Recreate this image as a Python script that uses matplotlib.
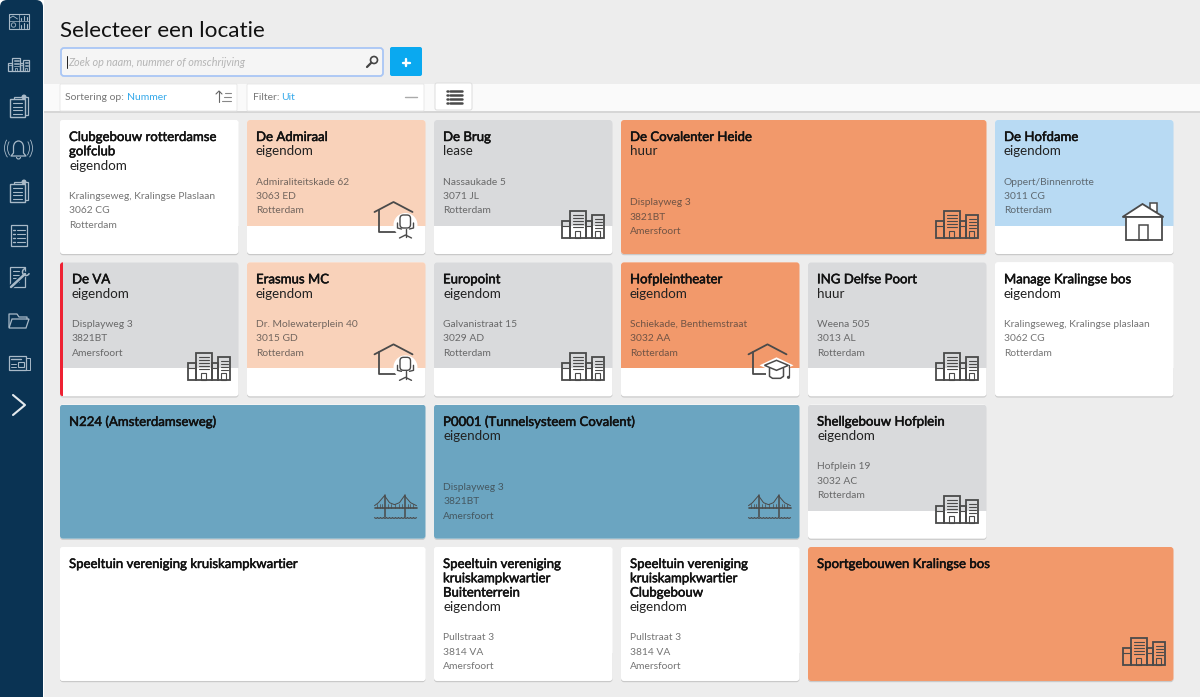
import matplotlib
matplotlib.use("Agg")
import matplotlib.pyplot as plt
import matplotlib.patheffects as pe
from matplotlib.patches import FancyBboxPatch, Rectangle, Polygon, Circle, Arc

plt.rcParams['font.family'] = ['Lato', 'DejaVu Sans']

# card contents, in page order
names = ["Clubgebouw rotterdamse\ngolfclub", "De Admiraal", "De Brug", "De Covalenter Heide", "De Hofdame",
         "De VA", "Erasmus MC", "Europoint", "Hofpleintheater", "ING Delfse Poort", "Manage Kralingse bos",
         "N224 (Amsterdamseweg)", "P0001 (Tunnelsysteem Covalent)", "Shellgebouw Hofplein",
         "Speeltuin vereniging kruiskampkwartier", "Speeltuin vereniging\nkruiskampkwartier\nBuitenterrein",
         "Speeltuin vereniging\nkruiskampkwartier\nClubgebouw", "Sportgebouwen Kralingse bos"]
kinds = ["eigendom", "eigendom", "lease", "huur", "eigendom",
         "eigendom", "eigendom", "eigendom", "eigendom", "huur", "eigendom",
         "", "eigendom", "eigendom",
         "", "eigendom", "eigendom", ""]
addresses = ["Kralingseweg, Kralingse Plaslaan\n3062 CG\nRotterdam", "Admiraliteitskade 62\n3063 ED\nRotterdam",
             "Nassaukade 5\n3071 JL\nRotterdam", "Displayweg 3\n3821BT\nAmersfoort",
             "Oppert/Binnenrotte\n3011 CG\nRotterdam",
             "Displayweg 3\n3821BT\nAmersfoort", "Dr. Molewaterplein 40\n3015 GD\nRotterdam",
             "Galvanistraat 15\n3029 AD\nRotterdam", "Schiekade, Benthemstraat\n3032 AA\nRotterdam",
             "Weena 505\n3013 AL\nRotterdam", "Kralingseweg, Kralingse plaslaan\n3062 CG\nRotterdam",
             "", "Displayweg 3\n3821BT\nAmersfoort", "Hofplein 19\n3032 AC\nRotterdam",
             "", "Pullstraat 3\n3814 VA\nAmersfoort", "Pullstraat 3\n3814 VA\nAmersfoort", ""]
colors = ["white", "peach", "grey", "orange", "blue",
          "grey", "peach", "grey", "orange", "grey", "white",
          "teal", "teal", "grey",
          "white", "white", "white", "orange"]
icons = ["", "desk", "office", "office", "house",
         "office", "desk", "office", "school", "office", "",
         "bridge", "bridge", "office",
         "", "", "", "office"]
spans = [1, 1, 1, 2, 1,
         1, 1, 1, 1, 1, 1,
         2, 2, 1,
         2, 1, 1, 2]
flagged = ["De VA"]
menu_icons = ["dash", "office", "docs", "bell", "docs", "list", "tools", "folder", "news", "chevron"]

palette = {"white": "#FFFFFF", "peach": "#F9D2BA", "grey": "#D9DADC", "orange": "#F2996B",
           "blue": "#B8DAF3", "teal": "#6BA5C1"}
NAVY = "#0A3353"
MENU = "#A9BAC8"
ICON = "#4A4A4A"

fig = plt.figure(figsize=(12, 6.97), dpi=100, facecolor="white")
ax = fig.add_axes([0, 0, 1, 1])
ax.set_xlim(0, 1200)
ax.set_ylim(697, 0)
ax.axis("off")


def box(x0, y0, x1, y1, fc, ec="none", r=3, lw=1, z=1):
    p = FancyBboxPatch((x0, y0), x1 - x0, y1 - y0, boxstyle=f"round,pad=0,rounding_size={r}",
                       fc=fc, ec=ec, lw=lw, zorder=z)
    ax.add_patch(p)
    return p


def line(xs, ys, color=ICON, lw=1.1, z=5):
    ax.plot(xs, ys, color=color, lw=lw, zorder=z, solid_capstyle="round", solid_joinstyle="round")


def rect(x0, y0, x1, y1, color=ICON, lw=1.1, fc="none", z=5):
    ax.add_patch(Rectangle((x0, y0), x1 - x0, y1 - y0, fc=fc, ec=color, lw=lw, zorder=z))


def office(x, b, c=ICON, lw=1.3, s=1.0):
    # x is left edge, b is bottom edge of a 42x27 glyph, s scales it
    t = b - 27 * s
    rect(x + 8 * s, t, x + 24 * s, b, c, lw)
    rect(x, t + 10 * s, x + 8 * s, b, c, lw)
    rect(x + 24 * s, t + 10 * s, x + 30 * s, b, c, lw)
    rect(x + 30 * s, t + 4 * s, x + 42 * s, b, c, lw)
    thin = lw * 0.62
    for i in range(5):
        yy = t + (4 + i * 3) * s
        line([x + 11 * s, x + 21 * s], [yy, yy], c, thin)
    for i in range(4):
        yy = t + (8 + i * 3) * s
        line([x + 33 * s, x + 40 * s], [yy, yy], c, thin)
    line([x, x + 8 * s], [t + 15 * s, t + 15 * s], c, thin)
    line([x + 24 * s, x + 30 * s], [t + 15 * s, t + 15 * s], c, thin)
    rect(x + 13 * s, b - 7 * s, x + 18 * s, b, c, thin)
    rect(x + 33 * s, b - 7 * s, x + 38 * s, b, c, thin)


def roof(x, t, wall_to):
    line([x, x + 19, x + 38], [t + 11, t + 1, t + 11], ICON, 1.3)
    line([x + 4, x + 4, wall_to], [t + 9, t + 31, t + 31], ICON, 1.3)


def desk(x, b):
    t = b - 37
    roof(x, t, x + 24)
    ax.add_patch(Circle((x + 31, t + 24), 12, fc="white", ec="none", zorder=5))
    box(x + 25.5, t + 14, x + 36, t + 27, "white", ICON, r=3.5, lw=1.0, z=6)
    line([x + 31, x + 31], [t + 28, t + 36], ICON, 1.0, 6)
    line([x + 23, x + 23, x + 27], [t + 22, t + 27, t + 28], ICON, 1.0, 6)
    line([x + 39, x + 39, x + 35], [t + 22, t + 27, t + 28], ICON, 1.0, 6)
    line([x + 25, x + 31, x + 37], [t + 37, t + 34, t + 37], ICON, 1.0, 6)


def house(x, b):
    b += 2
    t = b - 37
    rect(x + 27, t, x + 34, t + 9, ICON, 1.1, "white")
    ax.add_patch(Polygon([[x, t + 14], [x + 20, t + 1], [x + 41, t + 14]], closed=True,
                         fc="white", ec=ICON, lw=1.3, zorder=5))
    rect(x + 3, t + 14, x + 39, b, ICON, 1.3, "white")
    rect(x + 16, b - 15, x + 25, b, ICON, 1.1)


def school(x, b):
    t = b - 37
    roof(x, t, x + 18)
    ax.add_patch(Polygon([[x + 11, t + 22], [x + 28, t + 14], [x + 45, t + 22], [x + 28, t + 30]],
                         closed=True, fc="white", ec="none", zorder=5))
    ax.add_patch(Rectangle((x + 17, t + 24), 22, 12, fc="white", ec="none", zorder=5))
    ax.add_patch(Polygon([[x + 16, t + 22], [x + 28, t + 17], [x + 40, t + 22], [x + 28, t + 27]],
                         closed=True, fc="white", ec=ICON, lw=1.1, zorder=6))
    line([x + 21, x + 21, x + 24, x + 32, x + 35, x + 35], [t + 25, t + 33, t + 35, t + 35, t + 33, t + 25], ICON, 1.1, 5.5)
    line([x + 40, x + 40], [t + 22, t + 33], ICON, 0.9, 6)
    ax.add_patch(Circle((x + 40, t + 34), 1.6, fc=ICON, ec="none", zorder=6))


def bridge(x, b):
    b -= 5
    t = b - 23
    line([x + 10, x + 10], [t, b - 1], ICON, 1.1)
    line([x + 30, x + 30], [t, b - 1], ICON, 1.1)
    line([x, x + 42], [t + 13, t + 13], ICON, 1.2)
    line([x, x + 4, x + 10, x + 15, x + 20, x + 25, x + 30, x + 36, x + 42],
         [t + 11, t + 8, t + 1, t + 8, t + 10, t + 8, t + 1, t + 8, t + 11], ICON, 0.7)
    for k in (2, 5, 7, 13, 16, 20, 24, 27, 33, 35, 38):
        line([x + k, x + k], [t + 9, t + 13], ICON, 0.5)
    # water
    for k in range(0, 42, 3):
        line([x + k, x + k + 1.5, x + k + 3], [b, b + 0.8, b], ICON, 0.8)


glyphs = {"office": office, "desk": desk, "house": house, "school": school, "bridge": bridge}

# page chrome
ax.add_patch(Rectangle((0, 0), 1200, 697, fc="#EDEDED", ec="none", zorder=0))
ax.add_patch(Rectangle((43, 84), 1157, 27, fc="#FAFAFA", ec="none", zorder=0.5))
line([43, 1200], [111.5, 111.5], "#D2D2D2", 1.2, 0.6)
ax.add_patch(Rectangle((0, 0), 44, 697, fc="white", ec="none", zorder=0.7))
box(0, 0, 43, 720, NAVY, r=7, z=0.8)

# sidebar
menu_y = [21, 64, 106, 149, 191, 235, 278, 321, 363, 405]
for name, my in zip(menu_icons, menu_y):
    if name == "dash":
        rect(8.5, my - 7.5, 29, my + 7.5, MENU, 0.8)
        line([8.5, 29], [my, my], MENU, 0.5)
        line([18.5, 18.5], [my - 7.5, my + 7.5], MENU, 0.5)
        line([10, 13, 16, 17.5], [my - 3, my - 5, my - 3, my - 2], MENU, 0.6)
        ax.add_patch(Circle((13.5, my + 4), 2.2, fc="none", ec=MENU, lw=0.6, zorder=5))
        for k, h in enumerate((2, 4, 3)):
            line([21 + k * 3, 21 + k * 3], [my - 1, my - 1 - h], MENU, 0.8)
            line([21 + k * 3, 21 + k * 3], [my + 6.5, my + 6.5 - h - 1], MENU, 0.8)
    elif name == "office":
        office(8, my + 7, MENU, 0.9, s=0.5)
    elif name == "docs":
        rect(14, my - 9, 28, my + 9, MENU, 0.9)
        ax.add_patch(Circle((24, my - 9), 2.5, fc=MENU, ec="none", zorder=5.5))
        rect(10, my - 7, 24.5, my + 11, MENU, 1.0, NAVY, z=6)
        for k in range(4):
            line([13, 21.5], [my - 3 + k * 3.5, my - 3 + k * 3.5], MENU, 0.8, 7)
    elif name == "bell":
        ax.add_patch(Arc((18.5, my - 2), 10, 12, theta1=180, theta2=360, ec=MENU, lw=0.9, zorder=5))
        line([13.5, 13.5, 11, 26, 23.5, 23.5], [my - 2, my + 4, my + 7, my + 7, my + 4, my - 2], MENU, 0.9)
        ax.add_patch(Arc((18.5, my + 8), 4, 4, theta1=0, theta2=180, ec=MENU, lw=0.8, zorder=5))
        for wid in (22, 28):
            ax.add_patch(Arc((18.5, my - 1), wid, wid + 2, theta1=140, theta2=215, ec=MENU, lw=0.6, zorder=5))
            ax.add_patch(Arc((18.5, my - 1), wid, wid + 2, theta1=325, theta2=40, ec=MENU, lw=0.6, zorder=5))
    elif name == "list":
        rect(10.5, my - 10, 27, my + 11, MENU, 0.9)
        for k in range(4):
            line([12.5, 14.5], [my - 5 + k * 4, my - 5 + k * 4], MENU, 1.0)
            line([17, 24.5], [my - 5 + k * 4, my - 5 + k * 4], MENU, 0.8)
    elif name == "tools":
        rect(10, my - 11, 25, my + 9, MENU, 0.9)
        for k in range(4):
            line([12.5, 19], [my - 7 + k * 3.5, my - 7 + k * 3.5], MENU, 0.8)
        line([11, 25], [my + 9, my - 4], NAVY, 3.6, 5.5)
        line([11, 25], [my + 9, my - 4], MENU, 1.8, 6)
        ax.add_patch(Arc((26, my - 6), 7, 7, theta1=60, theta2=300, angle=-40, ec=MENU, lw=1.1, zorder=6))
    elif name == "folder":
        line([9, 9, 17, 19, 27, 27], [my + 6, my - 7, my - 7, my - 4, my - 4, my - 2], MENU, 0.9)
        ax.add_patch(Polygon([[12, my - 2], [29, my - 2], [26, my + 7], [9, my + 7]], closed=True,
                             fc="none", ec=MENU, lw=0.9, zorder=5))
    elif name == "news":
        rect(26, my - 5, 29.5, my + 7, MENU, 0.7)
        rect(8.5, my - 7, 26, my + 7, MENU, 0.9)
        line([11, 21], [my - 4, my - 4], MENU, 1.0)
        rect(18, my - 1, 23.5, my + 4, MENU, 0.8)
        line([11, 16], [my + 1, my + 1], MENU, 0.7)
        line([11, 16], [my + 4, my + 4], MENU, 0.7)
    elif name == "chevron":
        line([13, 25, 13], [my - 10, my, my + 10], "#E4EAEE", 1.5)

# header
ax.text(60, 31, "Selecteer een locatie", fontsize=16.2, color="#111111", va="center", ha="left")
box(61, 48, 383, 76, "#F5F5F5", "#A9C6F5", r=3, lw=1.3, z=2)
line([66.5, 66.5], [56, 68], "#222222", 0.7)
ax.text(68, 62.5, "Zoek op naam, nummer of omschrijving", fontsize=7.8, style="italic", color="#B5B5B5",
        va="center", ha="left", zorder=3)
ax.add_patch(Circle((374, 60), 3.5, fc="none", ec="#444444", lw=1.2, zorder=3))
line([371, 367], [63, 67], "#444444", 1.6)
box(390, 47, 422, 76, "#0AA9F0", r=2, z=2)
line([402.5, 409.5], [62.5, 62.5], "white", 1.7)
line([406, 406], [59, 66], "white", 1.7)

box(60, 84, 237, 111, "white", "#E6E6E6", r=1, lw=0.6, z=2)
ax.text(65, 97, "Sortering op:", fontsize=7.5, color="#777777", va="center", zorder=3)
ax.text(127, 97, "Nummer", fontsize=7.5, color="#35A9EA", va="center", zorder=3)
line([219, 219], [91, 102], "#666666", 0.8)
line([216, 219, 222], [94, 91, 94], "#666666", 0.8)
for yy, x0 in zip((93, 97, 101), (225, 224, 222)):
    line([x0, 231], [yy, yy], "#888888", 0.8)

box(247, 84, 424, 111, "white", "#E6E6E6", r=1, lw=0.6, z=2)
ax.text(253, 97, "Filter:", fontsize=7.5, color="#777777", va="center", zorder=3)
ax.text(281, 97, "Uit", fontsize=7.5, color="#35A9EA", va="center", zorder=3)
line([405, 417], [97, 97], "#AAAAAA", 1.0)

box(435, 83, 472, 110, "white", "#DDDDDD", r=2, lw=0.7, z=2)
for yy in (91, 95, 99, 103):
    line([446.5, 448], [yy, yy], "#4A4A4A", 1.8)
    line([450, 461.5], [yy, yy], "#4A4A4A", 1.8)

# cards, flowing left to right over a six column grid
COL0, COL_STEP, CARD_W = 60, 187, 178.5
ROW0, ROW_STEP, CARD_H = 120, 142.33, 134
BAND_H = 106
heavier = [pe.withStroke(linewidth=0.35, foreground="#111111")]
col, row = 0, 0
for name, kind, addr, colour, icon, span in zip(names, kinds, addresses, colors, icons, spans):
    if col + span > 6:
        col, row = 0, row + 1
    x0 = COL0 + col * COL_STEP
    x1 = x0 + CARD_W + (span - 1) * COL_STEP
    y0 = ROW0 + row * ROW_STEP
    y1 = y0 + CARD_H
    col += span

    box(x0, y0 + 1, x1, y1 + 1.2, "#C9C9C9", r=3, z=1)
    card = box(x0, y0, x1, y1, "white", r=3, z=2)
    wide = span == 2
    band = Rectangle((x0, y0), x1 - x0, CARD_H if wide else BAND_H, fc=palette[colour], ec="none", zorder=2.1)
    ax.add_patch(band)
    band.set_clip_path(card)

    tx = x0 + 9
    if name in flagged:
        bar = Rectangle((x0, y0), 2.5, CARD_H, fc="#EE2233", ec="none", zorder=3)
        ax.add_patch(bar)
        bar.set_clip_path(card)
        tx = x0 + 12

    yy = y0 + 17
    for part in name.split("\n"):
        ax.text(tx, yy, part, fontsize=9.5, color="#111111", va="center", zorder=6, path_effects=heavier)
        yy += 14.3
    if kind:
        ax.text(tx, yy, kind, fontsize=9.6, color="#222222", va="center", zorder=6)
        yy += 14.3
    if addr:
        yy += 51 - 14.3 if wide else 30.5 - 14.3
        for part in addr.split("\n"):
            ax.text(tx, yy + 0.5, part, fontsize=7.4, color="#333333", alpha=0.68, va="center", zorder=6)
            yy += 14.3
    if icon:
        glyphs[icon](x1 - 51, y1 - 16)

fig.savefig("out.png", dpi=100, facecolor="white")
